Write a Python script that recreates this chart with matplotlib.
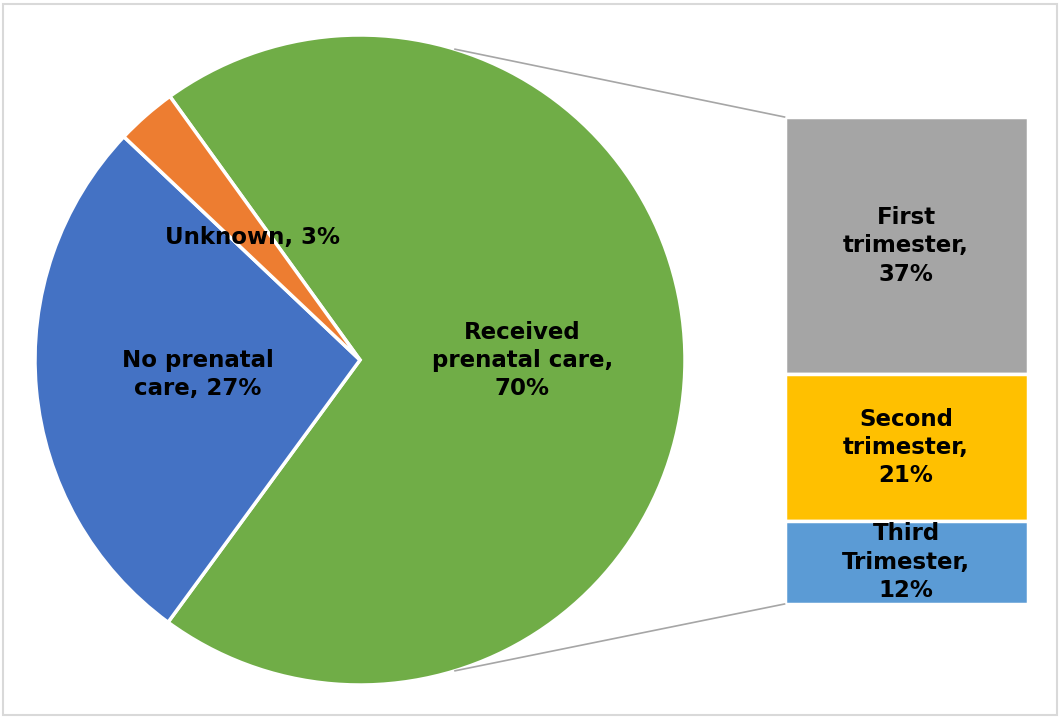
import numpy as np
import matplotlib
matplotlib.use('Agg')
import matplotlib.pyplot as plt

# pie data (clockwise from the green slice)
pie_labels = ['Received\nprenatal care,\n70%', 'No prenatal\ncare, 27%', 'Unknown, 3%']
pie_values = [70, 27, 3]
pie_colors = ['#70AD47', '#4472C4', '#ED7D31']

# breakdown of received care (top to bottom)
bar_labels = ['First\ntrimester,\n37%', 'Second\ntrimester,\n21%', 'Third\nTrimester,\n12%']
bar_values = [37, 21, 12]
bar_colors = ['#A5A5A5', '#FFC000', '#5B9BD5']

W, H = 1059, 717
FS, LS = 16.5, 1.3
fig = plt.figure(figsize=(W / 100, H / 100), dpi=100)
ax = fig.add_axes([0, 0, 1, 1])
ax.set_xlim(0, W)
ax.set_ylim(0, H)
ax.set_aspect('equal')
ax.axis('off')

cx, cy, r = 360, 357, 325
lbl_idx = iter(range(len(pie_labels)))
ax.pie(pie_values, colors=pie_colors, center=(cx, cy), radius=r,
       startangle=125.8, counterclock=False,
       wedgeprops=dict(edgecolor='white', linewidth=2.5),
       autopct=lambda p: pie_labels[next(lbl_idx)], pctdistance=0.5,
       textprops=dict(fontsize=FS, fontweight='bold', color='black',
                      linespacing=LS))
ax.set_xlim(0, W)
ax.set_ylim(0, H)

# stacked bar on the right
bx, bw = 906, 243
btop, bbot = H - 117, H - 604
scale = (btop - bbot) / sum(bar_values)
top = btop
for lab, v, c in zip(bar_labels, bar_values, bar_colors):
    h = v * scale
    ax.bar(bx, h, width=bw, bottom=top - h, color=c, edgecolor='white', linewidth=2.5)
    ax.text(bx, top - h / 2, lab, ha='center', va='center', fontsize=FS,
            fontweight='bold', color='black', linespacing=LS)
    top -= h

# connector lines from pie edge to bar corners
ang = np.deg2rad(73)
ex, ey = cx + r * np.cos(ang), r * np.sin(ang)
ax.plot([ex, bx - bw / 2], [cy + ey, btop], color='#A6A6A6', lw=1.2)
ax.plot([ex, bx - bw / 2], [cy - ey, bbot], color='#A6A6A6', lw=1.2)

# outer frame
fig.patches.append(plt.Rectangle((0.003, 0.003), 0.995, 0.992, transform=fig.transFigure,
                                 fill=False, edgecolor='#D9D9D9', linewidth=1.5))

fig.savefig('out.png', dpi=100)
